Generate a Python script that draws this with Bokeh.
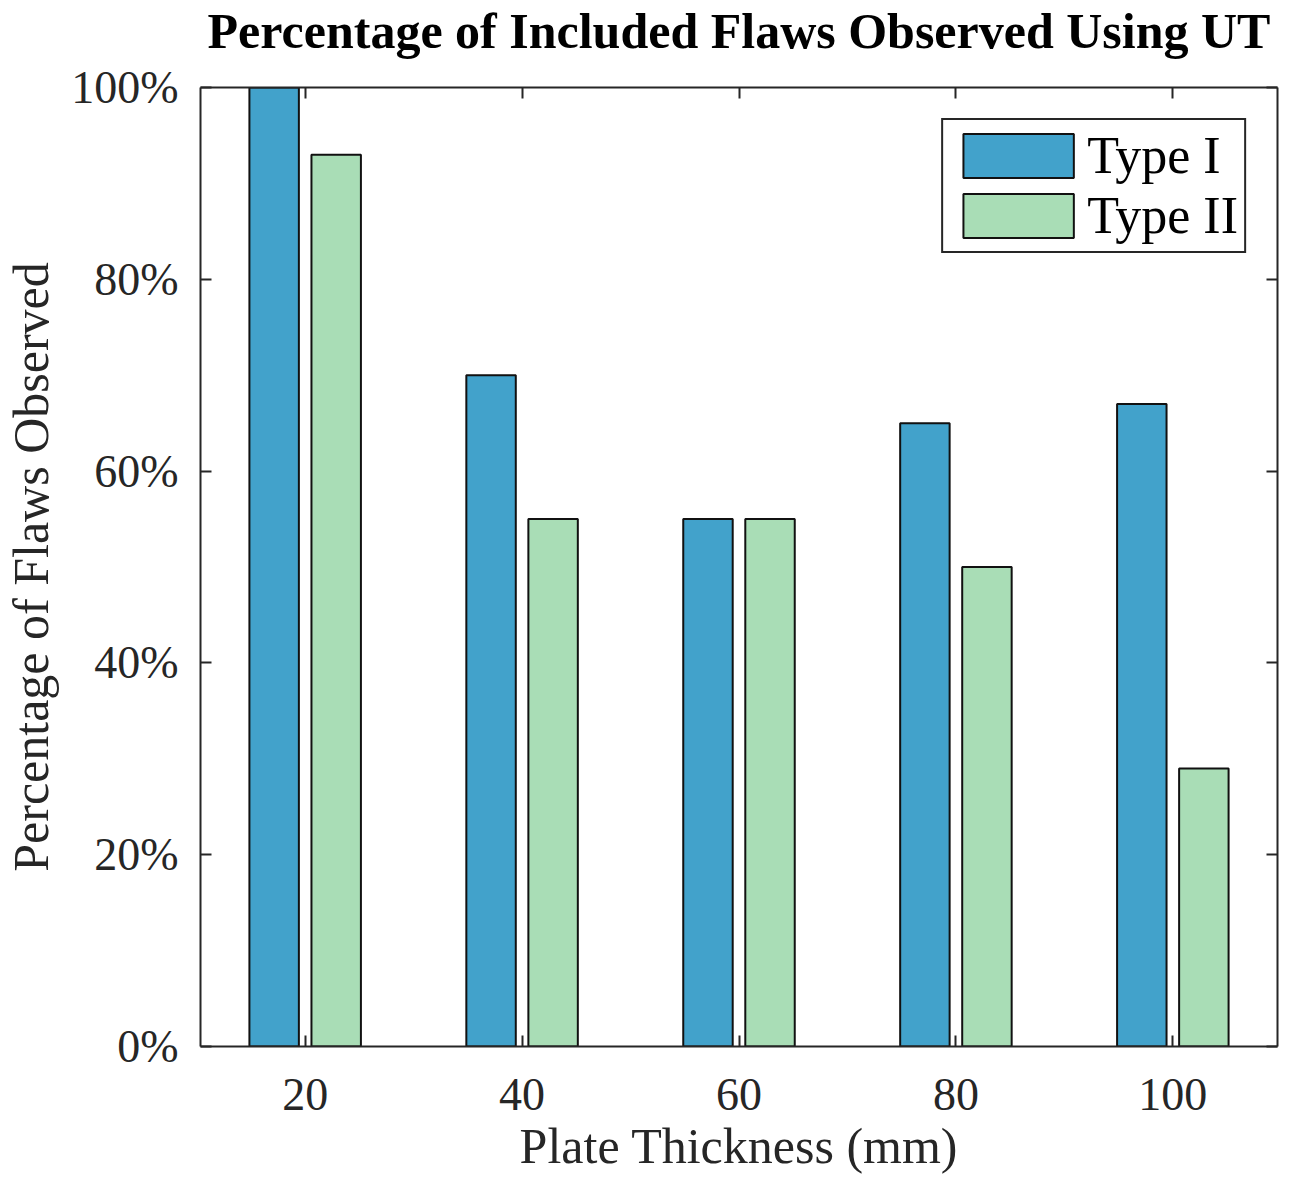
from bokeh.plotting import figure
from bokeh.models import (Range1d, LinearAxis, FixedTicker, Legend, LegendItem,
                          ColumnDataSource, CustomJSTickFormatter)
from bokeh.transform import dodge
from bokeh.embed import file_html
from bokeh.resources import INLINE

thickness = [20, 40, 60, 80, 100]
type_i = [100, 70, 55, 65, 67]
type_ii = [93, 55, 55, 50, 29]
y_ticks = [0, 20, 40, 60, 80, 100]
series_names = ["Type I", "Type II"]
title_text = "Percentage of Included Flaws Observed Using UT"

FONT = "Liberation Serif"
AX = "#262626"

src = ColumnDataSource(dict(x=thickness, t1=type_i, t2=type_ii))

p = figure(frame_width=1077, frame_height=959,
           x_range=Range1d(10.35, 109.65), y_range=Range1d(0, 100),
           output_backend="svg", toolbar_location=None,
           min_border_left=200, min_border_right=21,
           min_border_top=87, min_border_bottom=110)
p.background_fill_color = "white"
p.border_fill_color = "white"
p.outline_line_color = None
p.grid.visible = False

p.title.text = title_text
p.title.text_font = FONT
p.title.text_font_size = "50px"
p.title.text_font_style = "bold"
p.title.text_color = "black"
p.title.align = "center"
p.title.standoff = 0

r1 = p.vbar(x=dodge("x", -2.86, range=p.x_range), top="t1", width=4.56, bottom=0,
            source=src, fill_color="#42A2CB", line_color="#111111", line_width=2)
r2 = p.vbar(x=dodge("x", 2.86, range=p.x_range), top="t2", width=4.56, bottom=0,
            source=src, fill_color="#A9DDB6", line_color="#111111", line_width=2)

def style(ax):
    ax.axis_line_color = AX
    ax.axis_line_width = 2
    ax.major_tick_line_color = AX
    ax.major_tick_line_width = 2
    ax.major_tick_in = 11
    ax.major_tick_out = 0
    ax.minor_tick_line_color = None
    ax.major_label_text_font = FONT
    ax.major_label_text_font_size = "46px"
    ax.major_label_text_color = AX
    ax.axis_label_text_font = FONT
    ax.axis_label_text_font_size = "50px"
    ax.axis_label_text_color = AX
    ax.axis_label_text_font_style = "normal"

xa = p.xaxis[0]
ya = p.yaxis[0]
style(xa)
style(ya)
xa.ticker = FixedTicker(ticks=thickness)
ya.ticker = FixedTicker(ticks=y_ticks)
ya.major_label_overrides = {v: f"{v}%" for v in y_ticks}
xa.axis_label = "Plate Thickness (mm)"
ya.axis_label = "Percentage of Flaws Observed"
xa.major_label_standoff = 32
xa.axis_label_standoff = 5
ya.major_label_standoff = 22
ya.axis_label_standoff = 9

blank = CustomJSTickFormatter(code="return ' '")
top = LinearAxis(ticker=FixedTicker(ticks=thickness), formatter=blank)
right = LinearAxis(ticker=FixedTicker(ticks=y_ticks), formatter=blank)
style(top)
style(right)
top.major_label_text_font_size = "1px"
right.major_label_text_font_size = "1px"
top.major_label_standoff = 25
right.major_label_standoff = 0
p.add_layout(top, "above")
p.add_layout(right, "right")

legend = Legend(items=[LegendItem(label=series_names[0], renderers=[r1]),
                       LegendItem(label=series_names[1], renderers=[r2])],
                location="top_right")
legend.margin = 31
legend.padding = 6
legend.spacing = 1
legend.glyph_width = 138
legend.glyph_height = 55
legend.label_height = 44
legend.label_standoff = 0
legend.label_text_font = FONT
legend.label_text_font_size = "52px"
legend.label_text_color = "black"
legend.border_line_color = AX
legend.border_line_width = 2
legend.border_line_alpha = 1
legend.background_fill_alpha = 1
p.add_layout(legend, "center")

open("out.html", "w").write(file_html(p, INLINE))
